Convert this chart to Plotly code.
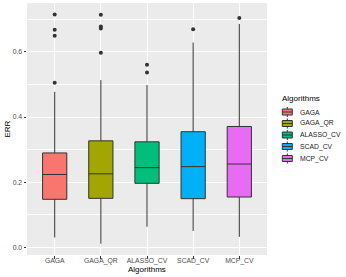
import plotly.graph_objects as go

algorithms = ["GAGA", "GAGA_QR", "ALASSO_CV", "SCAD_CV", "MCP_CV"]
colors = ["#F8766D", "#A3A500", "#00BF7D", "#00B0F6", "#E76BF3"]
q1 = [0.148, 0.151, 0.197, 0.150, 0.155]
median = [0.224, 0.226, 0.245, 0.248, 0.256]
q3 = [0.290, 0.327, 0.324, 0.355, 0.371]
lowerfence = [0.031, 0.012, 0.064, 0.051, 0.033]
upperfence = [0.477, 0.513, 0.498, 0.628, 0.685]
outliers = [
    [0.505, 0.649, 0.667, 0.714],
    [0.597, 0.671, 0.677, 0.713],
    [0.536, 0.560],
    [0.669],
    [0.703],
]

W, H = 346, 277
ML, MR, MT, MB = 27, 79, 3, 22
PW, PH = W - ML - MR, H - MT - MB


def px2x(px):
    return (px - ML) / PW


def px2y(py):
    return (H - MB - py) / PH


fig = go.Figure()
for i, name in enumerate(algorithms):
    fig.add_trace(go.Box(
        x=[name], q1=[q1[i]], median=[median[i]], q3=[q3[i]],
        lowerfence=[lowerfence[i]], upperfence=[upperfence[i]],
        name=name, fillcolor=colors[i], line=dict(color="#333333", width=1),
        whiskerwidth=0, boxpoints=False, showlegend=False,
    ))
for i, name in enumerate(algorithms):
    fig.add_trace(go.Scatter(
        x=[name] * len(outliers[i]), y=outliers[i], mode="markers",
        marker=dict(color="#333333", size=4), showlegend=False, hoverinfo="y",
    ))

# manual legend (ggplot-style compact keys)
shapes = []
annotations = []
annotations.append(dict(
    x=px2x(279.5), y=px2y(98.5), xref="paper", yref="paper", xanchor="left", yanchor="middle",
    text="Algorithms", showarrow=False, font=dict(size=8, color="black"),
))
key_y = [112.0, 123.5, 135.0, 146.5, 158.5]
for i, name in enumerate(algorithms):
    cy = key_y[i]
    cx = 287.3
    shapes.append(dict(type="line", xref="paper", yref="paper",
                       x0=px2x(cx), x1=px2x(cx), y0=px2y(cy - 5), y1=px2y(cy + 5),
                       line=dict(color="#333333", width=1)))
    shapes.append(dict(type="rect", xref="paper", yref="paper",
                       x0=px2x(cx - 5), x1=px2x(cx + 5), y0=px2y(cy - 3), y1=px2y(cy + 3),
                       fillcolor=colors[i], line=dict(color="#333333", width=1)))
    shapes.append(dict(type="line", xref="paper", yref="paper",
                       x0=px2x(cx - 5), x1=px2x(cx + 5), y0=px2y(cy), y1=px2y(cy),
                       line=dict(color="#333333", width=1)))
    annotations.append(dict(
        x=px2x(297.5), y=px2y(cy), xref="paper", yref="paper", xanchor="left", yanchor="middle",
        text=name, showarrow=False, font=dict(size=6.8, color="#1A1A1A"),
    ))

# axis titles
annotations.append(dict(
    x=px2x(147), y=px2y(269.5), xref="paper", yref="paper", xanchor="center", yanchor="middle",
    text="Algorithms", showarrow=False, font=dict(size=8, color="black"),
))
annotations.append(dict(
    x=px2x(6.5), y=px2y(129), xref="paper", yref="paper", xanchor="center", yanchor="middle",
    text="ERR", textangle=-90, showarrow=False, font=dict(size=8, color="black"),
))

fig.update_layout(
    width=W, height=H,
    margin=dict(l=ML, r=MR, t=MT, b=MB),
    paper_bgcolor="white", plot_bgcolor="#EBEBEB",
    boxmode="overlay", boxgap=0.25,
    font=dict(family="Liberation Sans, Arial, sans-serif", size=6.8, color="#4D4D4D"),
    showlegend=False,
    shapes=shapes, annotations=annotations,
)
fig.update_xaxes(
    type="category", categoryorder="array", categoryarray=algorithms,
    range=[-0.6, 4.6], showgrid=True, gridcolor="white", gridwidth=1,
    ticks="outside", ticklen=2.5, tickcolor="#333333", tickwidth=1,
    tickfont=dict(size=6.8, color="#4D4D4D"), ticklabelstandoff=-4,
    zeroline=False, showline=False,
)
fig.update_yaxes(
    range=[-0.0225, 0.749], tickvals=[0.0, 0.2, 0.4, 0.6], ticktext=["0.0", "0.2", "0.4", "0.6"],
    showgrid=True, gridcolor="white", gridwidth=1,
    minor=dict(tickvals=[0.1, 0.3, 0.5, 0.7], showgrid=True, gridcolor="white", gridwidth=0.5),
    ticks="outside", ticklen=2.5, tickcolor="#333333", tickwidth=1,
    tickfont=dict(size=6.8, color="#4D4D4D"),
    zeroline=False, showline=False,
)
fig.write_html(
    "out.html",
    config={"displayModeBar": False},
    post_script="document.body.style.margin='0';document.body.style.padding='0';",
)
